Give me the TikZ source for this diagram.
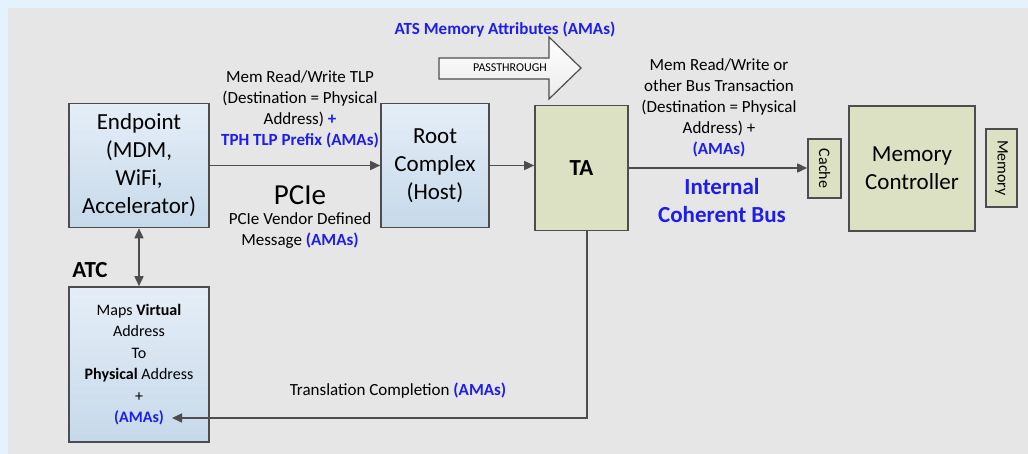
\documentclass[tikz,border=0pt]{standalone}
\usepackage{fontspec}
\setmainfont{Carlito}
\usetikzlibrary{positioning,arrows.meta}
\definecolor{page}{RGB}{227,242,253}
\definecolor{panel}{RGB}{230,230,230}
\definecolor{edge}{RGB}{77,77,77}
\definecolor{hosttop}{RGB}{229,238,247}
\definecolor{hostbot}{RGB}{198,217,234}
\definecolor{olive}{RGB}{219,225,194}
\definecolor{ama}{RGB}{30,30,235}
\newcommand{\ama}[1]{\textcolor{ama}{\textbf{#1}}}
\tikzset{
  >={Triangle[length=10pt,width=9pt]},
  unit/.style={draw=edge, line width=1.6pt, inner sep=0pt, align=center,
               font=\fontsize{23}{28}\selectfont},
  hostbox/.style={unit, top color=hosttop, bottom color=hostbot},
  busbox/.style={unit, fill=olive},
  slim/.style={busbox, rotate=-90, font=\fontsize{16}{18}\selectfont},
  link/.style={draw=edge, line width=1.6pt},
  note/.style={align=center, font=\fontsize{17}{21}\selectfont},
}

\begin{document}
\begin{tikzpicture}[x=1pt, y=-1pt]
    \fill[page] (0,0) rectangle (1028,454);
    \fill[panel] (8,8) rectangle (1028,454);

    % PCIe side
    \node[hostbox, minimum width=140, minimum height=124] (ep) at (139,165.5)
      {Endpoint\\(MDM,\\WiFi,\\Accelerator)};
    \node[hostbox, minimum width=108, minimum height=124] (rc) at (435,165.5)
      {Root\\Complex\\(Host)};
    \node[hostbox, minimum width=140, minimum height=155,
          font=\fontsize{16}{21.4}\selectfont] (atc) at (139,364.5)
      {Maps \textbf{Virtual}\\Address\\To\\\textbf{Physical} Address\\+\\\ama{(AMAs)}};
    \coordinate (amas) at (172,418);

    % host side
    \node[busbox, minimum width=93, minimum height=125] (ta) at (581.5,168) {\textbf{TA}};
    \node[slim, minimum width=59, minimum height=33] (cache) at (824.5,168.5) {Cache};
    \node[busbox, minimum width=126, minimum height=125] (mc) at (912,168.5)
      {Memory\\Controller};
    \node[slim, minimum width=78, minimum height=31] (mem) at (1001.5,168) {Memory};

    % passthrough arrow
    \draw[draw=edge, line width=1.2pt, top color=white, bottom color=panel!80]
      (439,58) -- (549,58) -- (549,37) -- (581,68) -- (549,99) -- (549,79)
      -- (439,79) -- cycle;
    \node[font=\fontsize{12}{14}\selectfont] (pass) at (510,68) {PASSTHROUGH};
    \node[note, text=ama, font=\fontsize{17}{21}\bfseries] (ats) at (505,30)
      {ATS Memory Attributes (AMAs)};

    % labels
    \node[note] (tlp) at (300,109)
      {Mem Read/Write TLP\\(Destination = Physical\\Address) \ama{+}\\\ama{TPH TLP Prefix (AMAs)}};
    \node[font=\fontsize{29}{32}\selectfont] (pcie) at (300,195) {PCIe};
    \node[note] (vdm) at (300,230.5) {PCIe Vendor Defined\\Message \ama{(AMAs)}};
    \node[note] (bus) at (719,108)
      {Mem Read/Write or\\other Bus Transaction\\(Destination = Physical\\Address) +\\\ama{(AMAs)}};
    \node[align=center, text=ama, font=\fontsize{23}{28}\bfseries] (icb) at (722,201)
      {Internal\\Coherent Bus};
    \node[note] (tc) at (398,391) {Translation Completion \ama{(AMAs)}};
    \node[font=\fontsize{23}{26}\bfseries] (atclbl) at (90,270) {ATC};

    % connectors
    \draw[link, ->] (ep) -- (rc);
    \draw[link, ->] (rc.east) -- (rc.east -| ta.west);
    \draw[link, ->] (ta.east) -- (ta.east -| cache.south);
    \draw[link, <->] (ep) -- (atc);
    \draw[link, ->] ([xshift=5.5pt]ta.south) |- (amas);
  \end{tikzpicture}
\end{document}
